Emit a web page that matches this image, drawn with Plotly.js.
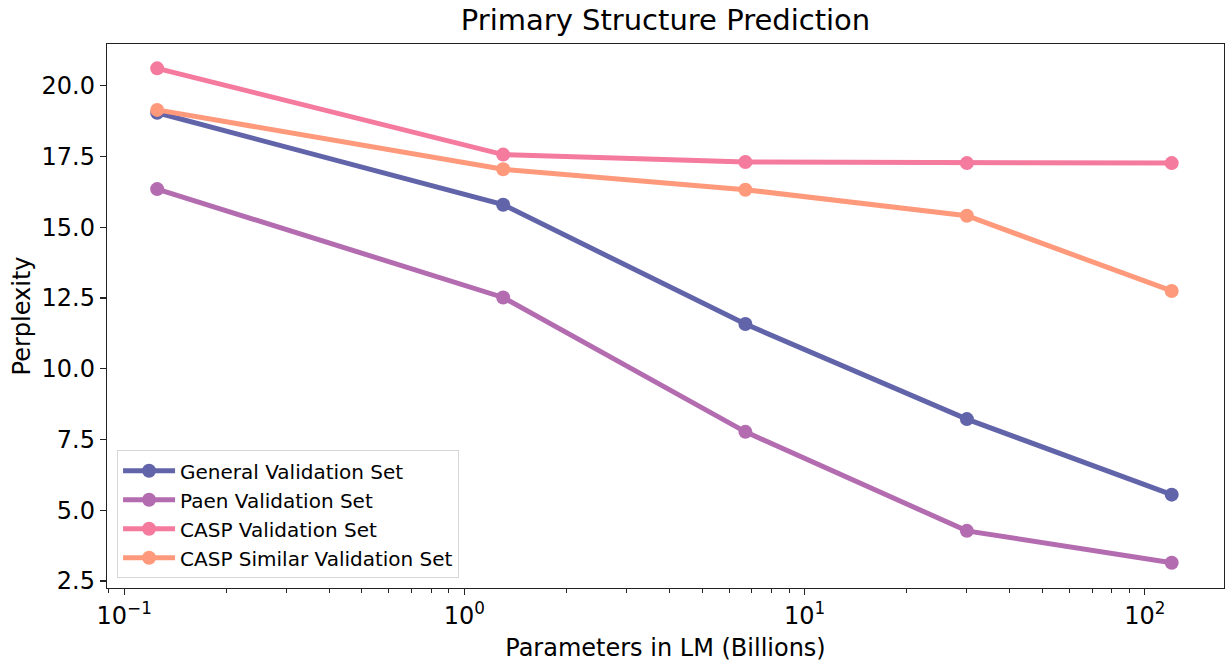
<!DOCTYPE html>
<html><head><meta charset="utf-8">
<script src="https://cdn.plot.ly/plotly-3.0.1.min.js"></script>
<style>body{margin:0;padding:0;background:#fff}#chart{width:1229px;height:668px}</style>
</head><body><div id="chart"></div>
<script>
const params = [0.125, 1.3, 6.7, 30, 120];
const seriesNames = ["General Validation Set", "Paen Validation Set", "CASP Validation Set", "CASP Similar Validation Set"];
const generalVals = [19.05, 15.8, 11.58, 8.22, 5.55];
const paenVals = [16.35, 12.52, 7.77, 4.27, 3.14];
const caspVals = [20.62, 17.57, 17.31, 17.27, 17.27];
const caspSimilarVals = [19.15, 17.05, 16.33, 15.41, 12.75];
const colors = ["#6264aa", "#b46cb0", "#f47a9e", "#fe9a7b"];
const xTickVals = [0.1, 1, 10, 100];
const xTickText = ["10<sup>−1</sup>", "10<sup>0</sup>", "10<sup>1</sup>", "10<sup>2</sup>"];
const yTickVals = [2.5, 5.0, 7.5, 10.0, 12.5, 15.0, 17.5, 20.0];

const allVals = [generalVals, paenVals, caspVals, caspSimilarVals];
const traces = allVals.map((v, i) => ({
  x: params, y: v, name: seriesNames[i], type: "scatter", mode: "lines+markers",
  line: {color: colors[i], width: 5},
  marker: {color: colors[i], size: 14}
}));

const minorVals = [];
for (let d = -2; d <= 2; d++) for (let k = 2; k <= 9; k++) minorVals.push(k * Math.pow(10, d));

const font = "DejaVu Sans, sans-serif";
const layout = {
  width: 1229, height: 668,
  margin: {l: 107, r: 5, t: 44, b: 80},
  paper_bgcolor: "#fff", plot_bgcolor: "#fff",
  font: {family: font, color: "#000"},
  title: {text: "Primary Structure Prediction", font: {size: 29, family: font}, x: 0.5, xref: "paper", y: 0.97, yanchor: "middle"},
  xaxis: {
    type: "log", range: [Math.log10(0.089), Math.log10(171)],
    tickmode: "array", tickvals: xTickVals, ticktext: xTickText,
    ticks: "outside", ticklen: 6, tickwidth: 1.2, tickcolor: "#222",
    tickfont: {size: 24, family: font},
    minor: {tickmode: "array", tickvals: minorVals, ticks: "outside", ticklen: 3.5, tickcolor: "#222", tickwidth: 1},
    showgrid: false, zeroline: false, showline: true, linecolor: "#222", linewidth: 1.2, mirror: true,
    title: {text: "Parameters in LM (Billions)", font: {size: 24, family: font}, standoff: 10}
  },
  yaxis: {
    range: [2.25, 21.48],
    tickmode: "array", tickvals: yTickVals, tickformat: ".1f",
    ticks: "outside", ticklen: 6, tickwidth: 1.2, tickcolor: "#222",
    tickfont: {size: 24, family: font},
    showgrid: false, zeroline: false, showline: true, linecolor: "#222", linewidth: 1.2, mirror: true,
    title: {text: "Perplexity", font: {size: 24, family: font}, standoff: 4}
  },
  legend: {
    x: 0.009, y: 0.018, xanchor: "left", yanchor: "bottom",
    bgcolor: "rgba(255,255,255,0.8)", bordercolor: "#d6d6d6", borderwidth: 1,
    font: {size: 20, family: font}, itemwidth: 52, tracegroupgap: 0
  },
  showlegend: true
};
Plotly.newPlot("chart", traces, layout, {displayModeBar: false, staticPlot: true});
</script></body></html>
